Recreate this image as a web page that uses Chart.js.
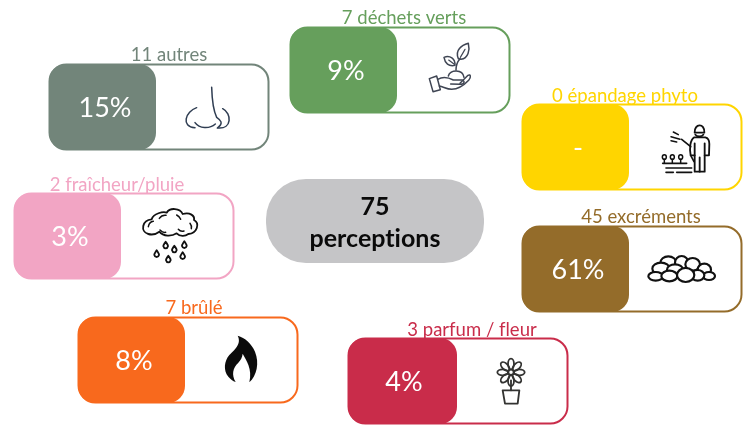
<!DOCTYPE html>
<html>
<head>
<meta charset="utf-8">
<title>Perceptions</title>
<script src="https://cdn.jsdelivr.net/npm/chart.js@4"></script>
<style>
  html, body { margin: 0; padding: 0; background: #fff; }
  #chart { display: block; }
</style>
</head>
<body>
<canvas id="chart" width="750" height="428"></canvas>
<script>
// --- Data ---
const categories = ['autres', 'déchets verts', 'épandage phyto', 'excréments', 'fraîcheur/pluie', 'brûlé', 'parfum / fleur'];
const counts = [11, 7, 0, 45, 2, 7, 3];
const percents = [15, 9, 0, 61, 3, 8, 4];
const totalCount = 75;
const totalLabel = 'perceptions';

// --- Look and layout ---
const colors = ['#72857a', '#669f5c', '#ffd500', '#946c2a', '#f2a5c4', '#f8691d', '#c92c4a'];
const icons = ['nose', 'plant', 'sprayer', 'stones', 'cloud', 'flame', 'flower'];
const cardLeft = [49, 290, 522, 522, 14, 78, 348];
const cardTop = [64, 27, 104, 226, 193, 317, 338];
const fillWidth = [107, 107, 107, 107, 107, 107, 109];
const labelX = [169, 404, 625, 641, 117, 194, 472];
const labelY = [61, 24, 102, 223, 191, 314, 336];
const CARD_W = 219, CARD_H = 85, RADIUS = 17;
const FONT = 'Lato, "Open Sans", sans-serif';

// icon sketches use 3x units, from this offset to the card corner
const iconOffset = {
  nose: [-49, -34], plant: [-10, -27], sprayer: [-12, -24], stones: [-12, -26],
  cloud: [-14, -23], flame: [-8, -22], flower: [-8, -23]
};

function strokePath(ctx, d, color, width) {
  ctx.strokeStyle = color;
  ctx.lineWidth = width;
  ctx.lineCap = 'round';
  ctx.lineJoin = 'round';
  ctx.stroke(new Path2D(d));
}

const drawIcon = {
  nose(ctx) {
    const c = '#2f3d52';
    strokePath(ctx, 'M635,172 C636,205 639,240 650,262 C662,270 672,280 652,294', c, 4.5);
    strokePath(ctx, 'M590,233 C556,245 542,290 585,293', c, 4.5);
    strokePath(ctx, 'M585,278 C598,296 628,298 646,282', c, 4.5);
    strokePath(ctx, 'M668,236 C696,250 696,298 654,294', c, 4.5);
  },
  plant(ctx) {
    const c = '#3f4553';
    strokePath(ctx, 'M448,236 L470,228 L481,269 L459,275 Z', c, 4.5);
    strokePath(ctx, 'M473,238 C490,228 505,232 520,240 L546,240 C556,243 554,253 540,253 L512,252', c, 4.5);
    strokePath(ctx, 'M540,250 L564,226 C572,221 574,232 566,241 C550,258 535,268 515,268 C500,268 490,260 478,258', c, 4.5);
    strokePath(ctx, 'M505,228 C510,208 548,206 552,232', c, 4.5);
    strokePath(ctx, 'M528,210 C528,195 532,185 540,176', c, 4.5);
    strokePath(ctx, 'M535,176 C524,150 545,136 565,130 C570,150 565,176 543,178 Z', c, 4.5);
    strokePath(ctx, 'M541,172 L555,148', c, 3.5);
    strokePath(ctx, 'M525,196 C506,200 495,190 492,172 C510,165 526,176 525,196 Z', c, 4.5);
    strokePath(ctx, 'M523,193 L506,180', c, 3.5);
  },
  sprayer(ctx) {
    const c = '#111';
    strokePath(ctx, 'M554,158 C552,130 585,128 583,158 Z', c, 5.5);
    strokePath(ctx, 'M556,164 C560,171 576,171 580,164', c, 5.5);
    strokePath(ctx, 'M553,172 L586,172 C595,174 598,182 598,192 L597,226 L584,226 L584,275 L554,275 L554,226 L542,226 C538,205 540,180 553,172 Z', c, 5.5);
    strokePath(ctx, 'M569,232 L569,275 M554,190 L554,226 M584,190 L584,226', c, 5.5);
    strokePath(ctx, 'M542,200 L515,178', c, 5);
    strokePath(ctx, 'M542,226 L552,245', c, 5);
    strokePath(ctx, 'M490,156 L505,164 M483,170 L510,178 M483,182 L500,186', c, 4.5);
    [463, 487, 512].forEach(x => {
      ctx.beginPath();
      ctx.ellipse(x, 231, 6, 7, 0, 0, Math.PI * 2);
      ctx.stroke();
      strokePath(ctx, `M${x},238 L${x},250`, c, 4.5);
    });
    strokePath(ctx, 'M458,250 L530,250 M468,264 L545,264 M468,277 L490,277 M500,277 L545,277', c, 5);
  },
  stones(ctx) {
    const stones = [[475, 189, 24, 20], [515, 188, 20, 20], [548, 193, 22, 19], [583, 209, 20, 18],
      [453, 206, 26, 18], [495, 209, 24, 16], [437, 229, 22, 13], [478, 228, 24, 16],
      [597, 228, 18, 12], [563, 226, 20, 16], [527, 225, 26, 21]];
    ctx.fillStyle = '#fff';
    ctx.strokeStyle = '#111';
    ctx.lineWidth = 6.5;
    stones.forEach(s => {
      ctx.beginPath();
      ctx.ellipse(s[0], s[1], s[2], s[3], 0, 0, Math.PI * 2);
      ctx.fill();
      ctx.stroke();
    });
  },
  cloud(ctx) {
    const c = '#111';
    strokePath(ctx, 'M445,192 C420,185 426,150 455,148 C460,130 490,124 500,128 C510,112 540,114 548,132 C570,125 585,138 582,150 C600,160 592,190 565,192 C555,200 540,200 530,190 C515,200 490,200 478,185 C465,195 455,195 445,192 Z', c, 5.5);
    strokePath(ctx, 'M445,170 C447,160 452,155 460,154 M478,145 C483,138 490,135 498,136 M530,135 C536,138 540,142 542,148 M570,160 C574,165 575,170 574,176 M480,180 C486,186 492,188 497,187 M535,178 C540,184 546,185 552,183', c, 4.5);
    const drops = [[497, 226], [523, 238], [553, 225], [470, 252], [505, 268], [548, 258]];
    ctx.lineWidth = 5.5;
    drops.forEach(d => {
      ctx.stroke(new Path2D(`M${d[0]},${d[1] - 11} C${d[0] + 5},${d[1] - 3} ${d[0] + 8},${d[1]} ${d[0] + 7},${d[1] + 3} C${d[0] + 5},${d[1] + 11} ${d[0] - 5},${d[1] + 11} ${d[0] - 7},${d[1] + 3} C${d[0] - 8},${d[1]} ${d[0] - 5},${d[1] - 3} ${d[0]},${d[1] - 11} Z`));
    });
  },
  flame(ctx) {
    ctx.fillStyle = '#0b0b0b';
    ctx.fill(new Path2D('M503,122 C516,148 492,165 478,180 C463,197 459,226 475,245 C482,253 488,258 497,261 C484,240 488,218 505,203 C512,196 517,186 518,176 C528,196 548,220 538,262 C560,242 569,205 555,170 C545,146 525,128 503,122 Z'));
  },
  flower(ctx) {
    const c = '#333331';
    ctx.strokeStyle = c;
    ctx.lineWidth = 5.5;
    for (let i = 0; i < 8; i++) {
      ctx.save();
      ctx.translate(513, 172);
      ctx.rotate(i * Math.PI / 4);
      ctx.beginPath();
      ctx.ellipse(0, -25, 9, 16, 0, 0, Math.PI * 2);
      ctx.stroke();
      ctx.restore();
    }
    ctx.fillStyle = '#fff';
    ctx.beginPath();
    ctx.arc(513, 172, 8, 0, Math.PI * 2);
    ctx.fill();
    ctx.stroke();
    strokePath(ctx, 'M513,196 L513,226', c, 5.5);
    strokePath(ctx, 'M488,226 L538,226 L533,266 L495,266 Z', c, 5.5);
  }
};

// draws the cards at the points the scatter dataset placed through the scales
const cardsPlugin = {
  id: 'cards',
  afterDatasetsDraw(chart) {
    const ctx = chart.ctx;
    const points = chart.getDatasetMeta(0).data;
    const sx = chart.scales.x, sy = chart.scales.y;
    ctx.letterSpacing = '0.01px'; // keeps Lato from joining ti / tt

    points.forEach((pt, i) => {
      const x = pt.x, y = pt.y;
      const color = colors[i];

      ctx.save();
      ctx.fillStyle = '#fff';
      ctx.strokeStyle = color;
      ctx.lineWidth = 2;
      ctx.beginPath();
      ctx.roundRect(x + 0.5, y + 0.5, CARD_W, CARD_H, RADIUS);
      ctx.fill();
      ctx.stroke();

      ctx.fillStyle = color;
      ctx.beginPath();
      ctx.roundRect(x, y, fillWidth[i], CARD_H + 1, RADIUS);
      ctx.fill();

      ctx.fillStyle = '#fff';
      ctx.font = '27px ' + FONT;
      ctx.textAlign = 'center';
      ctx.textBaseline = 'middle';
      ctx.fillText(percents[i] === 0 ? '-' : percents[i] + '%', x + 56, y + 44);

      ctx.fillStyle = color;
      ctx.font = '18.5px ' + FONT;
      ctx.textBaseline = 'alphabetic';
      ctx.fillText(counts[i] + ' ' + categories[i], sx.getPixelForValue(labelX[i]), sy.getPixelForValue(labelY[i]));

      const off = iconOffset[icons[i]];
      ctx.translate(x + off[0], y + off[1]);
      ctx.scale(1 / 3, 1 / 3);
      drawIcon[icons[i]](ctx);
      ctx.restore();
    });

    // centre pill
    const px = sx.getPixelForValue(266), py = sy.getPixelForValue(179);
    ctx.save();
    ctx.fillStyle = '#c5c5c7';
    ctx.beginPath();
    ctx.roundRect(px, py, 218, 84, 40);
    ctx.fill();
    ctx.fillStyle = '#0a0a0a';
    ctx.font = 'bold 25px ' + FONT;
    ctx.textAlign = 'center';
    ctx.textBaseline = 'alphabetic';
    ctx.fillText(String(totalCount), px + 109, py + 36);
    ctx.fillText(totalLabel, px + 109, py + 68);
    ctx.restore();
  }
};

new Chart(document.getElementById('chart').getContext('2d'), {
  type: 'scatter',
  data: {
    labels: categories,
    datasets: [{
      data: categories.map((c, i) => ({ x: cardLeft[i], y: cardTop[i] })),
      pointRadius: 0
    }]
  },
  options: {
    responsive: false,
    animation: false,
    layout: { padding: 0 },
    plugins: { legend: { display: false }, tooltip: { enabled: false } },
    scales: {
      x: { type: 'linear', display: false, min: 0, max: 750 },
      y: { type: 'linear', display: false, min: 0, max: 428, reverse: true }
    }
  },
  plugins: [cardsPlugin]
});
</script>
</body>
</html>
